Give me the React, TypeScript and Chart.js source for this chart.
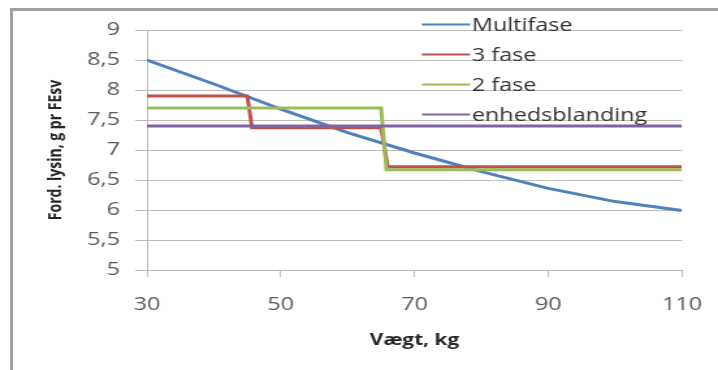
import React, { useEffect, useRef } from 'react';
import { Chart, registerables } from 'chart.js';

Chart.register(...registerables);

// ---- data ----
const multifaseWeights = [30, 40, 50, 60, 70, 80, 90, 100, 110];
const multifaseValues = [8.5, 8.1, 7.68, 7.29, 6.95, 6.64, 6.36, 6.14, 5.99];
const fase3Weights = [30, 45, 45.7, 65, 66, 110];
const fase3Values = [7.9, 7.9, 7.37, 7.37, 6.72, 6.72];
const fase2Weights = [30, 65, 65.8, 110];
const fase2Values = [7.7, 7.7, 6.67, 6.67];
const enhedsWeights = [30, 110];
const enhedsValues = [7.4, 7.4];
const seriesLabels = ['Multifase', '3 fase', '2 fase', 'enhedsblanding'];
const seriesColors = ['#4F81BD', '#C0504D', '#9BBB59', '#8064A2'];
const yTickLabels = ['5', '5,5', '6', '6,5', '7', '7,5', '8', '8,5', '9'];
const xTickLabels = ['30', '50', '70', '90', '110'];
const xTitle = 'Vægt, kg';
const yTitle = 'Ford. lysin, g pr FEsv';

const W0 = 552;
const H0 = 370;
const STRETCH = 718 / W0;

const toPoints = (xs: number[], ys: number[]) => xs.map((x, i) => ({ x, y: ys[i] }));

const insideLegend = {
  id: 'insideLegend',
  afterDatasetsDraw(chart: any) {
    const { ctx, chartArea } = chart;
    ctx.save();
    chart.data.datasets.forEach((ds: any, i: number) => {
      const y = chartArea.top - 5.5 + i * 30;
      ctx.strokeStyle = ds.borderColor;
      ctx.lineWidth = 2;
      ctx.beginPath();
      ctx.moveTo(chartArea.left + 211.3, y);
      ctx.lineTo(chartArea.left + 248.4, y);
      ctx.stroke();
      ctx.fillStyle = '#333333';
      ctx.font = '18px "Open Sans"';
      ctx.textBaseline = 'alphabetic';
      ctx.textAlign = 'left';
      ctx.fillText(ds.label, chartArea.left + 249.7, y + 6.2);
    });
    ctx.restore();
  },
};

export default function App() {
  const canvasRef = useRef<HTMLCanvasElement | null>(null);

  useEffect(() => {
    if (!canvasRef.current) return;
    const gridColor = '#BDBDBD';
    const chart = new Chart(canvasRef.current, {
      type: 'line',
      data: {
        datasets: [
          { label: seriesLabels[0], data: toPoints(multifaseWeights, multifaseValues), borderColor: seriesColors[0], order: 3 },
          { label: seriesLabels[1], data: toPoints(fase3Weights, fase3Values), borderColor: seriesColors[1], order: 2 },
          { label: seriesLabels[2], data: toPoints(fase2Weights, fase2Values), borderColor: seriesColors[2], order: 1 },
          { label: seriesLabels[3], data: toPoints(enhedsWeights, enhedsValues), borderColor: seriesColors[3], order: 0 },
        ].map((d) => ({ ...d, borderWidth: 3, pointRadius: 0, tension: 0, fill: false, backgroundColor: d.borderColor })),
      },
      options: {
        animation: false,
        responsive: false,
        events: [],
        layout: { padding: { left: 0, right: W0 - 682 / STRETCH, top: 30, bottom: 0 } },
        plugins: { legend: { display: false }, tooltip: { enabled: false } },
        scales: {
          x: {
            type: 'linear',
            min: 30,
            max: 110,
            afterFit: (s: any) => {
              s.height = H0 - 270;
              s.paddingLeft = 0;
              s.paddingRight = 0;
            },
            afterBuildTicks: (s: any) => {
              s.ticks = xTickLabels.map((t) => ({ value: Number(t) }));
            },
            ticks: {
              callback: (_v: any, i: number) => xTickLabels[i],
              color: '#595959',
              font: { family: '"Open Sans"', size: 18 },
              padding: 17,
              maxRotation: 0,
            },
            grid: { drawOnChartArea: false, drawTicks: true, tickLength: 7, color: gridColor },
            border: { display: true, color: gridColor },
            title: {
              display: true,
              text: xTitle,
              color: '#262626',
              font: { family: '"Open Sans"', size: 16, weight: 'bold' },
              padding: { top: 0, bottom: 20 },
            },
          },
          y: {
            type: 'linear',
            min: 5,
            max: 9,
            afterFit: (s: any) => { s.width = 147 / STRETCH; },
            afterBuildTicks: (s: any) => {
              s.ticks = yTickLabels.map((t) => ({ value: Number(t.replace(',', '.')) }));
            },
            ticks: {
              callback: (_v: any, i: number) => yTickLabels[i],
              color: '#595959',
              font: { family: '"Open Sans"', size: 18 },
              padding: 11.6,
            },
            grid: { color: gridColor, tickLength: 9.2, drawTicks: true },
            border: { display: true, color: gridColor },
            title: {
              display: true,
              text: yTitle,
              color: '#262626',
              font: { family: '"Open Sans"', size: 14, weight: 'bold' },
              padding: { top: 34.6, bottom: 0 },
            },
          },
        },
      },
      plugins: [insideLegend],
    } as any);
    return () => chart.destroy();
  }, []);

  return (
    <div style={{ position: 'fixed', left: 0, top: 0, width: 718, height: 370, overflow: 'hidden', background: '#ffffff' }}>
      <div
        style={{
          position: 'absolute',
          left: 10,
          top: 8,
          width: 900,
          height: 600,
          borderLeft: '3px solid #a0a0a0',
          borderTop: '3px solid #a0a0a0',
          boxSizing: 'border-box',
        }}
      />
      <canvas
        ref={canvasRef}
        width={W0}
        height={H0}
        style={{
          position: 'absolute',
          left: 0,
          top: 0,
          width: W0,
          height: H0,
          transform: `scaleX(${STRETCH})`,
          transformOrigin: '0 0',
        }}
      />
    </div>
  );
}
